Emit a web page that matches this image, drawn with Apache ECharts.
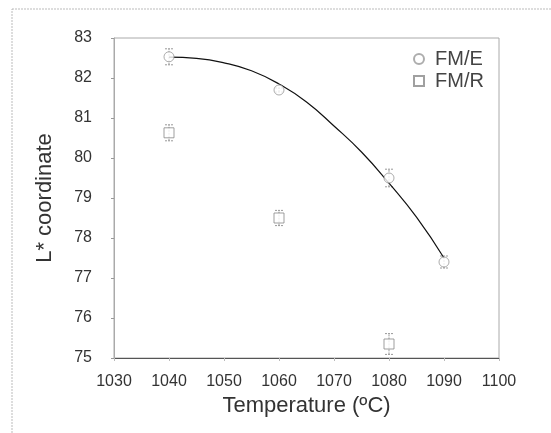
<!DOCTYPE html>
<html>
<head>
<meta charset="utf-8">
<script src="https://cdn.jsdelivr.net/npm/echarts@6/dist/echarts.min.js"></script>
<style>
html, body { margin: 0; padding: 0; background: #fff; }
#main { width: 551px; height: 433px; }
</style>
</head>
<body>
<div id="main"></div>
<script>
var myChart = echarts.init(document.getElementById('main'));

// FM/E samples
var tempE = [1040, 1060, 1080, 1090];
var lE = [82.53, 81.7, 79.5, 77.4];
var errE = [0.2, 0.05, 0.22, 0.15];

// FM/R samples
var tempR = [1040, 1060, 1080];
var lR = [80.63, 78.5, 75.35];
var errR = [0.2, 0.19, 0.26];

// trend line through FM/E
var fitX = [1040, 1045, 1050, 1055, 1060, 1065, 1070, 1075, 1080, 1085, 1090];
var fitY = [82.52, 82.49, 82.38, 82.18, 81.85, 81.4, 80.8, 80.15, 79.37, 78.52, 77.5];

var pairs = function (xs, ys) {
    var res = [];
    for (var i = 0; i < xs.length; i++) res.push([xs[i], ys[i]]);
    return res;
};
var errData = function (xs, ys, es) {
    var res = [];
    for (var i = 0; i < xs.length; i++) res.push([xs[i], ys[i] - es[i], ys[i] + es[i]]);
    return res;
};

var errRender = function (params, api) {
    var x = api.value(0);
    var lo = api.coord([x, api.value(1)]);
    var hi = api.coord([x, api.value(2)]);
    var w = 4;
    var st = { stroke: '#999', lineWidth: 1, lineDash: [2, 1] };
    return {
        type: 'group',
        children: [
            { type: 'line', shape: { x1: lo[0], y1: lo[1], x2: hi[0], y2: hi[1] }, style: st },
            { type: 'line', shape: { x1: lo[0] - w, y1: lo[1], x2: lo[0] + w, y2: lo[1] }, style: st },
            { type: 'line', shape: { x1: hi[0] - w, y1: hi[1], x2: hi[0] + w, y2: hi[1] }, style: st }
        ]
    };
};

var font = 'Liberation Sans, Arial, sans-serif';

option = {
    backgroundColor: '#fff',
    animation: false,
    graphic: [{
        type: 'rect',
        shape: { x: 12, y: 9, width: 600, height: 500 },
        style: { fill: 'none', stroke: '#bbb', lineWidth: 1, lineDash: [2, 1] },
        silent: true
    }],
    grid: {
        left: 114, right: 52, top: 38, bottom: 75,
        show: true,
        borderColor: '#aaa',
        borderWidth: 1
    },
    legend: {
        orient: 'vertical',
        left: 408, top: 44,
        itemWidth: 10, itemHeight: 10,
        itemGap: 2,
        data: ['FM/E', 'FM/R'],
        textStyle: { fontFamily: font, fontSize: 20, color: '#444', padding: [0, 0, 0, 6] }
    },
    xAxis: {
        type: 'value',
        min: 1030, max: 1100, interval: 10,
        name: 'Temperature (ºC)',
        nameLocation: 'middle',
        nameGap: 34,
        nameTextStyle: { fontFamily: font, fontSize: 22, color: '#333' },
        axisLine: { lineStyle: { color: '#555', width: 1 } },
        axisTick: { show: true, length: 3, lineStyle: { color: '#bbb' } },
        axisLabel: {
            fontFamily: font, fontSize: 16, color: '#333', margin: 16,
            formatter: function (v) { return String(v); }
        },
        splitLine: { show: false }
    },
    yAxis: {
        type: 'value',
        min: 75, max: 83, interval: 1,
        name: 'L* coordinate',
        nameLocation: 'middle',
        nameGap: 58,
        nameTextStyle: { fontFamily: font, fontSize: 22, color: '#333' },
        axisLine: { lineStyle: { color: '#aaa', width: 1 } },
        axisTick: { show: true, length: 3, lineStyle: { color: '#999' } },
        axisLabel: { fontFamily: font, fontSize: 16, color: '#333', margin: 22 },
        splitLine: { show: false }
    },
    series: [
        {
            name: 'fit',
            type: 'line',
            data: pairs(fitX, fitY),
            smooth: true,
            showSymbol: false,
            lineStyle: { color: '#111', width: 1.2 },
            z: 3
        },
        {
            name: 'FM/E',
            type: 'scatter',
            data: pairs(tempE, lE),
            symbol: 'circle',
            symbolSize: 10,
            itemStyle: { color: '#fff', borderColor: '#999', borderWidth: 1 },
            z: 4
        },
        {
            name: 'FM/R',
            type: 'scatter',
            data: pairs(tempR, lR),
            symbol: 'rect',
            symbolSize: 10,
            itemStyle: { color: '#fff', borderColor: '#888', borderWidth: 1 },
            z: 4
        },
        {
            type: 'custom',
            data: errData(tempE, lE, errE),
            renderItem: errRender,
            z: 2
        },
        {
            type: 'custom',
            data: errData(tempR, lR, errR),
            renderItem: errRender,
            z: 2
        }
    ]
};

myChart.setOption(option);
</script>
</body>
</html>
